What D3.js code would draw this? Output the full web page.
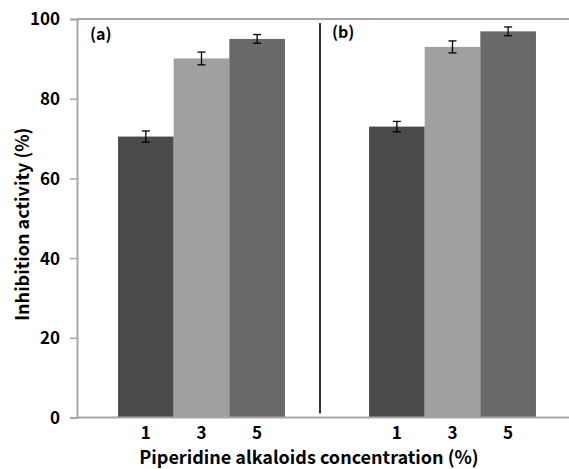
<!DOCTYPE html>
<html>
<head>
<meta charset="utf-8">
<script src="https://cdn.jsdelivr.net/npm/d3@7"></script>
<style>
  body { margin: 0; background: #fff; }
  text { font-family: "Noto Sans CJK KR", "Noto Sans", sans-serif; font-weight: bold; fill: #000; }
</style>
</head>
<body>
<svg id="chart"></svg>
<script>
// data
const panels = ['(a)', '(b)'];
const concentrations = ['1', '3', '5'];
const inhibition = {
    '(a)': [70.5, 90.1, 95.0],
    '(b)': [73.0, 93.0, 96.9]
};
const errors = {
    '(a)': [1.4, 1.6, 1.1],
    '(b)': [1.3, 1.5, 1.1]
};
const yTicks = [0, 20, 40, 60, 80, 100];
const barColors = ['#4a4a4a', '#a0a0a0', '#696969'];

const width = 569, height = 469;
const margin = {top: 19, right: 0, bottom: 52, left: 77};

const svg = d3.select('#chart')
    .attr('width', width)
    .attr('height', height);

const yScale = d3.scaleLinear()
    .domain([0, 100])
    .range([height - margin.bottom + 0.5, margin.top]);

const xGroup = d3.scaleBand()
    .domain(panels)
    .range([margin.left - 1, margin.left + 501])
    .paddingInner(0.335)
    .paddingOuter(0.1675);

const xInner = d3.scaleBand()
    .domain(concentrations)
    .range([0, xGroup.bandwidth()]);

const rows = panels.flatMap(p => concentrations.map((c, i) => ({
    panel: p, conc: c, idx: i, value: inhibition[p][i], err: errors[p][i]
})));

// plot frame (top line, light gray)
const axisColor = '#a6a6a6';
svg.append('line')
    .attr('x1', margin.left).attr('x2', width)
    .attr('y1', yScale(100)).attr('y2', yScale(100))
    .attr('stroke', axisColor).attr('stroke-width', 2);

// bars
svg.selectAll('.bar')
    .data(rows)
    .join('rect')
    .attr('class', 'bar')
    .attr('x', d => xGroup(d.panel) + xInner(d.conc))
    .attr('width', xInner.bandwidth())
    .attr('y', d => yScale(d.value))
    .attr('height', d => yScale(0) - yScale(d.value))
    .attr('fill', d => barColors[d.idx]);

// error bars
const capW = 4;
const cx = d => xGroup(d.panel) + xInner(d.conc) + xInner.bandwidth() / 2;
const eb = svg.selectAll('.err')
    .data(rows)
    .join('g')
    .attr('class', 'err')
    .attr('stroke', '#000')
    .attr('stroke-width', 1.3);
eb.append('line')
    .attr('x1', cx).attr('x2', cx)
    .attr('y1', d => yScale(d.value + d.err))
    .attr('y2', d => yScale(d.value - d.err));
eb.append('line')
    .attr('x1', d => cx(d) - capW).attr('x2', d => cx(d) + capW)
    .attr('y1', d => yScale(d.value + d.err))
    .attr('y2', d => yScale(d.value + d.err));
eb.append('line')
    .attr('x1', d => cx(d) - capW).attr('x2', d => cx(d) + capW)
    .attr('y1', d => yScale(d.value - d.err))
    .attr('y2', d => yScale(d.value - d.err));

// y axis
const yAxis = d3.axisLeft(yScale)
    .tickValues(yTicks)
    .tickSize(7)
    .tickPadding(10)
    .tickFormat(d3.format('d'));
const yAxisGroup = svg.append('g')
    .attr('transform', `translate(${margin.left},0)`)
    .call(yAxis);
yAxisGroup.select('.domain').attr('stroke', axisColor).attr('stroke-width', 2);
yAxisGroup.selectAll('.tick line').attr('stroke', axisColor).attr('stroke-width', 1.5);
yAxisGroup.selectAll('.tick text')
    .style('font-size', '17px')
    .attr('dy', '0.35em');

// x axis line
svg.append('line')
    .attr('x1', margin.left).attr('x2', width)
    .attr('y1', yScale(0)).attr('y2', yScale(0))
    .attr('stroke', axisColor).attr('stroke-width', 2);

// x tick labels
svg.selectAll('.xlabel')
    .data(rows)
    .join('text')
    .attr('class', 'xlabel')
    .attr('x', cx)
    .attr('y', yScale(0) + 21)
    .attr('text-anchor', 'middle')
    .style('font-size', '17px')
    .text(d => d.conc);

// panel divider
svg.append('line')
    .attr('x1', 320).attr('x2', 320)
    .attr('y1', yScale(99)).attr('y2', yScale(1))
    .attr('stroke', '#333').attr('stroke-width', 2);

// panel labels
svg.selectAll('.panel-label')
    .data(panels)
    .join('text')
    .attr('class', 'panel-label')
    .attr('x', (d, i) => i === 0 ? 90 : 332)
    .attr('y', (d, i) => i === 0 ? 40 : 38)
    .style('font-size', '16px')
    .text(d => d);

// axis titles
svg.append('text')
    .attr('transform', `translate(29,${(yScale(0) + yScale(100)) / 2 + 6}) rotate(-90)`)
    .attr('text-anchor', 'middle')
    .style('font-size', '18px')
    .text('Inhibition activity (%)');

svg.append('text')
    .attr('x', 309)
    .attr('y', 464)
    .attr('text-anchor', 'middle')
    .style('font-size', '18px')
    .text('Piperidine alkaloids concentration (%)');
</script>
</body>
</html>
